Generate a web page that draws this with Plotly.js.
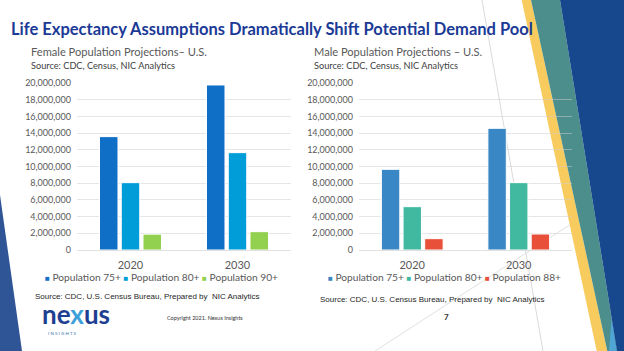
<!DOCTYPE html>
<html>
<head>
<meta charset="utf-8">
<script src="https://cdn.plot.ly/plotly-3.0.1.min.js"></script>
<style>html,body{margin:0;padding:0;background:#fff;}#chart{width:624px;height:351px;}</style>
</head>
<body>
<div id="chart"></div>
<script>
// ---- data ----
const categories = ['2020', '2030'];
const femaleSeries = ['Population 75+', 'Population 80+', 'Population 90+'];
const female75 = [13600000, 19800000];
const female80 = [8080000, 11680000];
const female90 = [1900000, 2200000];
const maleSeries = ['Population 75+', 'Population 80+', 'Population 88+'];
const male75 = [9680000, 14600000];
const male80 = [5200000, 8080000];
const male88 = [1360000, 1920000];
const yTickVals = [0, 2000000, 4000000, 6000000, 8000000, 10000000, 12000000, 14000000, 16000000, 18000000, 20000000];

const femaleColors = ['#0F6FC6', '#009DD9', '#92D050'];
const maleColors = ['#3A87C6', '#41B8A0', '#E8503A'];

const W = 624, H = 351;
const px = x => x / W;
const py = y => 1 - y / H;

function bar(name, y, color, xa, ya) {
  return {
    type: 'bar', name: name, x: categories, y: y, xaxis: xa, yaxis: ya,
    marker: {color: color, line: {color: '#ffffff', width: 1}},
    showlegend: false, hoverinfo: 'skip'
  };
}

const femaleVals = [female75, female80, female90];
const maleVals = [male75, male80, male88];
const traces = [];
femaleSeries.forEach((n, i) => traces.push(bar(n, femaleVals[i], femaleColors[i], 'x', 'y')));
maleSeries.forEach((n, i) => traces.push(bar(n, maleVals[i], maleColors[i], 'x2', 'y2')));

const font = 'Lato, "Open Sans", sans-serif';
const yaxisBase = {
  range: [0, 20000000], tickvals: yTickVals, tickformat: ',d',
  showgrid: true, gridcolor: 'rgba(205,205,205,0.5)', gridwidth: 1,
  zeroline: true, zerolinecolor: 'rgba(205,205,205,0.6)', zerolinewidth: 1,
  showline: false, ticks: '', ticklabelstandoff: 5,
  tickfont: {family: font, size: 9, color: '#595959'},
  domain: [py(250), py(83.3)], fixedrange: true
};
const xaxisBase = {
  type: 'category', showgrid: false, zeroline: false, showline: false, ticks: '',
  tickfont: {family: font, size: 11, color: '#595959'}, ticklabelstandoff: 7, fixedrange: true
};

function poly(points, color) {
  const d = points.map((p, i) => (i ? 'L' : 'M') + px(p[0]).toFixed(5) + ',' + py(p[1]).toFixed(5)).join(' ') + ' Z';
  return {type: 'path', xref: 'paper', yref: 'paper', path: d, fillcolor: color, line: {width: 0}, layer: 'below'};
}
function seg(a, b, color) {
  return {type: 'line', xref: 'paper', yref: 'paper', x0: px(a[0]), y0: py(a[1]), x1: px(b[0]), y1: py(b[1]),
    line: {color: color, width: 0.8}, layer: 'below'};
}

const shapes = [
  seg([482, 0], [543, 351], '#D0D0D0'),
  seg([375, 351], [605, 202], '#D8D8D8'),
  poly([[0, 195], [22, 351], [0, 351]], '#2F5597'),
  poly([[521.7, 0], [531, 0], [607.3, 351], [596.7, 351]], '#F8CB5E'),
  poly([[531, 0], [560, 0], [617, 351], [607.3, 351]], '#4C8E8B'),
  poly([[611.6, 318], [617, 351], [609, 351]], '#4FA6D5'),
  poly([[560, 0], [624, 0], [624, 351], [617, 351]], '#17478C')
];

function legendText(names, colors) {
  return names.map((n, i) => '<span style="color:' + colors[i] + ';font-size:8px">■</span> ' + n).join(' ');
}

function txt(text, x, y, size, color, opts) {
  return Object.assign({
    xref: 'paper', yref: 'paper', x: px(x), y: py(y), xanchor: 'left', yanchor: 'middle',
    text: text, showarrow: false, font: {family: font, size: size, color: color}
  }, opts || {});
}

const srcFont = {family: '"Liberation Sans", Arial, sans-serif', size: 8, color: '#262626'};
const annotations = [
  txt('<b>Life Expectancy Assumptions Dramatically Shift Potential Demand Pool</b>', 9, 28.5, 16.5, '#1B3A96'),
  txt('Female Population Projections– U.S.', 29, 51, 11.1, '#595959'),
  txt('Source: CDC, Census, NIC Analytics', 29, 65.5, 9.2, '#404040'),
  txt('Male Population Projections – U.S.', 312, 51, 11.1, '#595959'),
  txt('Source: CDC, Census, NIC Analytics', 312, 65.5, 9.2, '#404040'),
  txt(legendText(femaleSeries, femaleColors), 161.5, 277, 10.2, '#595959', {xanchor: 'center'}),
  txt(legendText(maleSeries, maleColors), 444, 277, 10.2, '#595959', {xanchor: 'center'}),
  txt('Source: CDC, U.S. Census Bureau, Prepared by  NIC Analytics', 33, 296, 8, '#262626', {font: srcFont}),
  txt('Source: CDC, U.S. Census Bureau, Prepared by  NIC Analytics', 318, 299, 8, '#262626', {font: srcFont}),
  txt('<b>ne<span style="color:#3CA0DA">x</span>us</b>', 40, 313.5, 26, '#1E3F91'),
  txt('I N S I G H T S', 46, 333, 4.5, '#3A6FB0'),
  txt('Copyright 2021. Nexus Insights', 165, 318, 5.5, '#333333'),
  txt('<b>7</b>', 446, 317, 8, '#333333', {xanchor: 'center'})
];

const layout = {
  width: W, height: H, autosize: false,
  margin: {l: 0, r: 0, t: 0, b: 0, pad: 0},
  paper_bgcolor: '#ffffff', plot_bgcolor: 'rgba(0,0,0,0)',
  barmode: 'group', bargap: 0.39, bargroupgap: 0.15,
  showlegend: false,
  font: {family: font},
  xaxis: Object.assign({}, xaxisBase, {domain: [px(77), px(291)], anchor: 'y'}),
  yaxis: Object.assign({}, yaxisBase, {anchor: 'x'}),
  xaxis2: Object.assign({}, xaxisBase, {domain: [px(359), px(572)], anchor: 'y2'}),
  yaxis2: Object.assign({}, yaxisBase, {anchor: 'x2'}),
  shapes: shapes,
  annotations: annotations
};

Plotly.newPlot('chart', traces, layout, {displayModeBar: false, staticPlot: true});
</script>
</body>
</html>
